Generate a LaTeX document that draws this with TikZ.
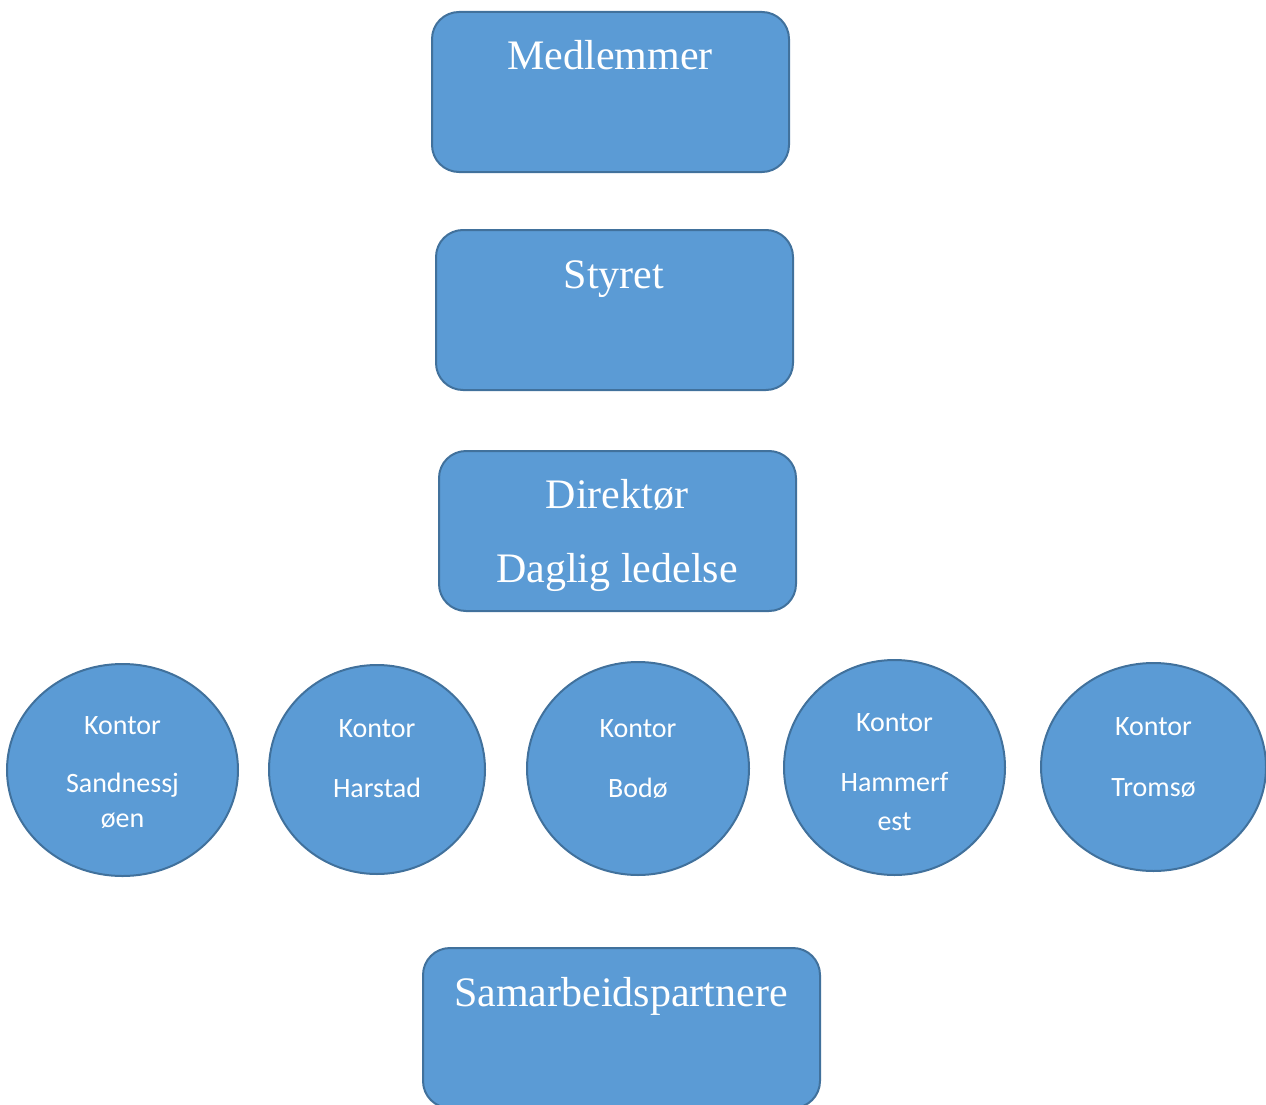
\documentclass[tikz,border=0pt]{standalone}
\usepackage{fontspec}
\setmainfont{Liberation Serif}
\newfontfamily\calfont{Carlito}
\usetikzlibrary{shapes.geometric}
\definecolor{boxfill}{HTML}{5B9BD5}
\definecolor{boxline}{HTML}{41719C}
\tikzset{
  orgbox/.style={draw=boxline, fill=boxfill, line width=2pt, rounded corners=27pt, inner sep=0pt},
  office/.style={draw=boxline, fill=boxfill, line width=2pt, ellipse, inner sep=0pt},
  bigtext/.style={text=white, font=\fontsize{42}{48}\selectfont, anchor=base, inner sep=0pt},
  smalltext/.style={text=white, font=\calfont\fontsize{28}{32}\selectfont, anchor=base, inner sep=0pt}
}
\begin{document}
\begin{tikzpicture}[x=1pt, y=-1pt]
\useasboundingbox (0,0) rectangle (1266,1105);
\begin{scope}
\clip (0,0) rectangle (1266,1105);
% boxes
\node[orgbox, minimum width=357pt, minimum height=160pt] (m) at (610.5,92) {};
\node[orgbox, minimum width=357pt, minimum height=160pt] (s) at (614.5,310) {};
\node[orgbox, minimum width=357pt, minimum height=160pt] (d) at (617.5,531) {};
\node[orgbox, minimum width=397pt, minimum height=160pt] (p) at (621.5,1028) {};
\end{scope}
\node[bigtext] (mt) at (610,70) {Medlemmer};
\node[bigtext] (st) at (614,288) {Styret};
\node[bigtext] (dt1) at (617,508) {Direktør};
\node[bigtext] (dt2) at (617,582) {Daglig ledelse};
\node[bigtext] (pt) at (621,1006) {Samarbeidspartnere};
% offices
\node[office, minimum width=231pt, minimum height=212pt] (o1) at (122.5,770) {};
\node[office, minimum width=216pt, minimum height=209pt] (o2) at (377,769.5) {};
\node[office, minimum width=222pt, minimum height=213pt] (o3) at (638,768.5) {};
\node[office, minimum width=221pt, minimum height=215pt] (o4) at (894.5,767.5) {};
\node[office, minimum width=225pt, minimum height=208pt] (o5) at (1153.5,767) {};
\node[smalltext] (o1a) at (122.5,734) {Kontor};
\node[smalltext] (o1b) at (122.5,792) {Sandnessj};
\node[smalltext] (o1c) at (122.5,827) {øen};
\node[smalltext] (o2a) at (377,737) {Kontor};
\node[smalltext] (o2b) at (377,797) {Harstad};
\node[smalltext] (o3a) at (638,737) {Kontor};
\node[smalltext] (o3b) at (638,797) {Bodø};
\node[smalltext] (o4a) at (894.5,731) {Kontor};
\node[smalltext] (o4b) at (894.5,791) {Hammerf};
\node[smalltext] (o4c) at (894.5,830) {est};
\node[smalltext] (o5a) at (1153.5,735) {Kontor};
\node[smalltext] (o5b) at (1153.5,796) {Tromsø};
\end{tikzpicture}
\end{document}
